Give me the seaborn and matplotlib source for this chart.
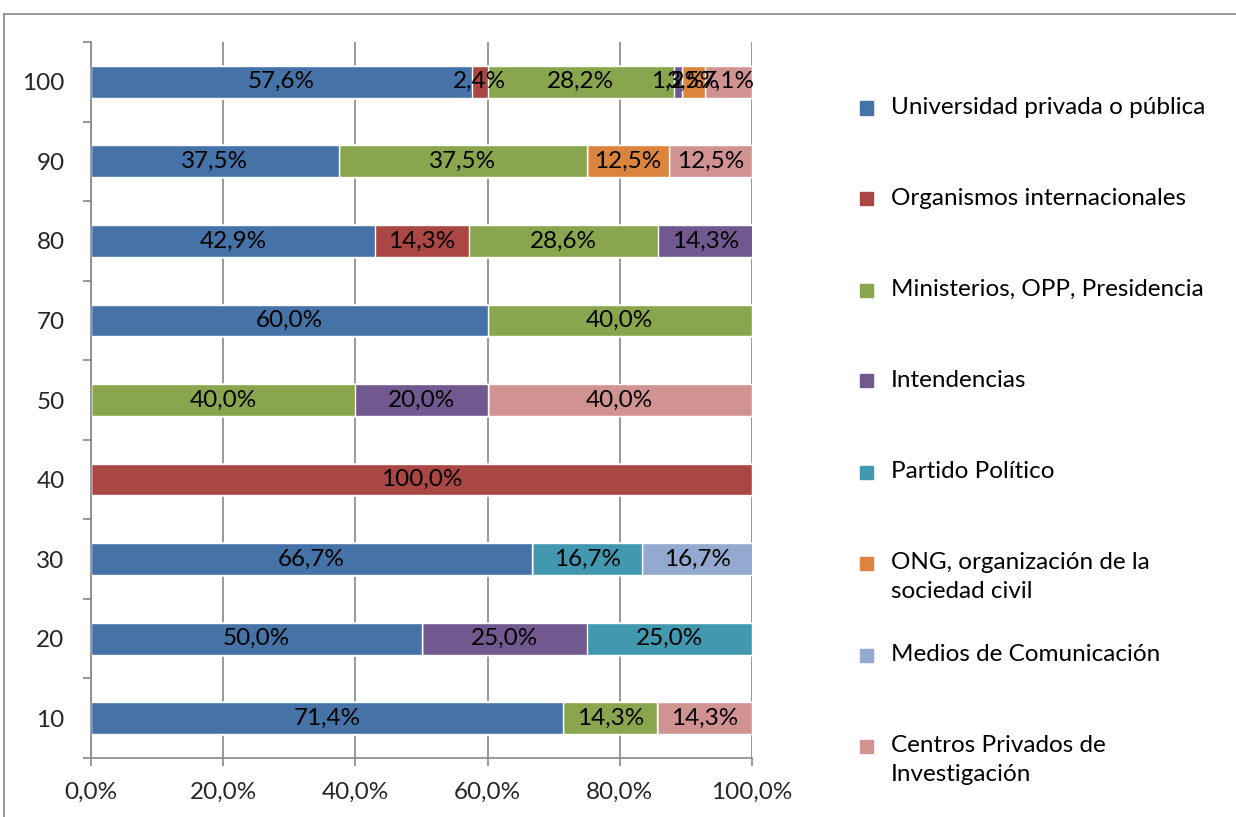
import numpy as np
import pandas as pd
import seaborn as sns
import matplotlib.pyplot as plt
from matplotlib.patches import Rectangle
from matplotlib.ticker import FixedLocator, FuncFormatter

# === DONNÉES ===
categorias = ["100", "90", "80", "70", "50", "40", "30", "20", "10"]
series = [
    "Universidad privada o pública",
    "Organismos internacionales",
    "Ministerios, OPP, Presidencia",
    "Intendencias",
    "Partido Político",
    "ONG, organización de la\nsociedad civil",
    "Medios de Comunicación",
    "Centros Privados de\nInvestigación",
]
universidad = [57.6, 37.5, 42.9, 60.0, 0, 0, 66.7, 50.0, 71.4]
organismos = [2.4, 0, 14.3, 0, 0, 100.0, 0, 0, 0]
ministerios = [28.2, 37.5, 28.6, 40.0, 40.0, 0, 0, 0, 14.3]
intendencias = [1.2, 0, 14.3, 0, 20.0, 0, 0, 25.0, 0]
partido = [0, 0, 0, 0, 0, 0, 16.7, 25.0, 0]
ong = [3.5, 12.5, 0, 0, 0, 0, 0, 0, 0]
medios = [0, 0, 0, 0, 0, 0, 16.7, 0, 0]
centros = [7.1, 12.5, 0, 0, 40.0, 0, 0, 0, 14.3]
colores = ["#4572A7", "#AA4643", "#89A54E", "#71588F",
           "#4198AF", "#DB843D", "#93A9CF", "#D19392"]

valores = [universidad, organismos, ministerios, intendencias,
           partido, ong, medios, centros]

# === CONFIGURATION ===
sns.set_theme(style="white")
plt.rcParams["font.family"] = ["Lato", "DejaVu Sans"]
FS = 17.5      # étiquettes, légende et graduations
GRIS = "#878787"

fig = plt.figure(figsize=(12.36, 8.17), dpi=100)
ax = fig.add_axes([91 / 1236, 59 / 817, 661 / 1236, 716 / 817])

# barres empilées : on trace les cumuls du plus large au plus étroit
acum = np.cumsum(np.array(valores), axis=0)
for k in range(len(series) - 1, -1, -1):
    df = pd.DataFrame({"cat": categorias, "val": acum[k]})
    sns.barplot(data=df, y="cat", x="val", order=categorias, orient="h",
                color=colores[k], saturation=1, width=0.4, ax=ax, zorder=2)

# étiquettes de données
for k, vals in enumerate(valores):
    for i, v in enumerate(vals):
        if v > 0:
            centro = acum[k][i] - v / 2
            ax.text(centro, i, f"{v:.1f}%".replace(".", ","), ha="center",
                    va="center", fontsize=FS, color="black", zorder=3)

# axes
ax.set_xlim(0, 100)
ax.set_ylim(len(categorias) - 0.5, -0.5)
ax.set_xlabel("")
ax.set_ylabel("")
ax.set_xticks([0, 20, 40, 60, 80, 100])
ax.xaxis.set_major_formatter(FuncFormatter(lambda x, p: f"{x:.1f}%".replace(".", ",")))
ax.yaxis.set_minor_locator(FixedLocator(np.arange(-0.5, len(categorias), 1)))
ax.tick_params(axis="y", which="major", length=0, pad=19, labelsize=FS)
ax.tick_params(axis="y", which="minor", left=True, length=6, width=1.2, color=GRIS)
ax.tick_params(axis="x", which="major", bottom=True, length=6, width=1.2,
               color=GRIS, pad=11, labelsize=FS)
ax.grid(axis="x", color=GRIS, linewidth=1.2, zorder=0)
ax.set_axisbelow(True)
for s in ["top", "right"]:
    ax.spines[s].set_visible(False)
for s in ["left", "bottom"]:
    ax.spines[s].set_color(GRIS)
    ax.spines[s].set_linewidth(1.2)

# légende façon Excel
pos_leyenda = [108, 199, 290, 381, 472, 563, 655, 746]
for k, nom in enumerate(series):
    yf = 1 - pos_leyenda[k] / 817
    fig.patches.append(Rectangle((860 / 1236, yf - 6.5 / 817), 13 / 1236, 13 / 817,
                                 transform=fig.transFigure, color=colores[k]))
    fig.text(891 / 1236, yf + 11 / 817, nom, ha="left", va="top", fontsize=FS,
             color="black", linespacing=1.46)

# cadre extérieur
fig.add_artist(plt.Line2D([3.5 / 1236, 3.5 / 1236], [0, 1 - 13.5 / 817],
                          transform=fig.transFigure, color=GRIS, lw=1.2))
fig.add_artist(plt.Line2D([3.5 / 1236, 1], [1 - 13.5 / 817, 1 - 13.5 / 817],
                          transform=fig.transFigure, color=GRIS, lw=1.2))

fig.savefig("out.png", dpi=100)
